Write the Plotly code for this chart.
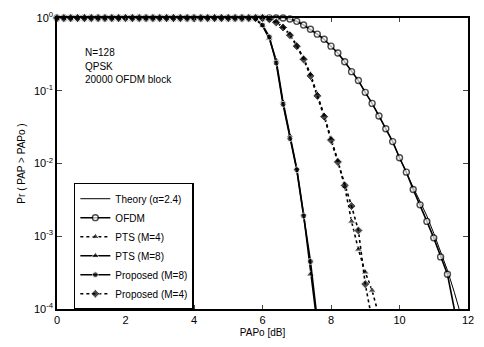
import plotly.graph_objects as go

# ---------------- data ----------------
PAPO_DB = [0.0, 0.2, 0.4, 0.6, 0.8, 1.0, 1.2, 1.4, 1.6, 1.8,
           2.0, 2.2, 2.4, 2.6, 2.8, 3.0, 3.2, 3.4, 3.6, 3.8,
           4.0, 4.2, 4.4, 4.6, 4.8, 5.0, 5.2, 5.4, 5.6, 5.8,
           6.0, 6.2, 6.4, 6.6, 6.8, 7.0, 7.2, 7.4, 7.6, 7.8,
           8.0, 8.2, 8.4, 8.6, 8.8, 9.0, 9.2, 9.4, 9.6, 9.8,
           10.0, 10.2, 10.4, 10.6, 10.8, 11.0, 11.2, 11.4, 11.6, 11.8,
           12.0]

theory = [1.0, 1.0, 1.0, 1.0, 1.0, 1.0, 1.0, 1.0, 1.0, 1.0,
          1.0, 1.0, 1.0, 1.0, 1.0, 1.0, 1.0, 1.0, 1.0, 1.0,
          1.0, 1.0, 1.0, 1.0, 1.0, 1.0, 1.0, 1.0, 1.0, 1.0,
          1.0, 1.0, 1.0, 1.0, 0.97, 0.9, 0.8, 0.7, 0.6, 0.51,
          0.41, 0.33, 0.25, 0.183, 0.138, 0.095, 0.067, 0.045, 0.03, 0.02,
          0.012, 0.0077, 0.0047, 0.003, 0.0019, 0.0011, 0.0006, 0.00034, 0.00017, 0.00008]

ofdm = [1.0, 1.0, 1.0, 1.0, 1.0, 1.0, 1.0, 1.0, 1.0, 1.0,
        1.0, 1.0, 1.0, 1.0, 1.0, 1.0, 1.0, 1.0, 1.0, 1.0,
        1.0, 1.0, 1.0, 1.0, 1.0, 1.0, 1.0, 1.0, 1.0, 1.0,
        1.0, 1.0, 1.0, 1.0, 0.97, 0.9, 0.8, 0.7, 0.6, 0.51,
        0.41, 0.33, 0.25, 0.183, 0.138, 0.095, 0.067, 0.045, 0.03, 0.02,
        0.012, 0.0076, 0.0044, 0.0027, 0.0016, 0.00095, 0.00052, 0.0003, 0.0001]

pts_m4 = [1.0, 1.0, 1.0, 1.0, 1.0, 1.0, 1.0, 1.0, 1.0, 1.0,
          1.0, 1.0, 1.0, 1.0, 1.0, 1.0, 1.0, 1.0, 1.0, 1.0,
          1.0, 1.0, 1.0, 1.0, 1.0, 1.0, 1.0, 1.0, 1.0, 1.0,
          1.0, 0.97, 0.88, 0.76, 0.6, 0.42, 0.28, 0.17, 0.09, 0.046,
          0.022, 0.011, 0.0048, 0.0016, 0.00066, 0.00032, 0.00018, 0.00008]

pts_m8 = [1.0, 1.0, 1.0, 1.0, 1.0, 1.0, 1.0, 1.0, 1.0, 1.0,
          1.0, 1.0, 1.0, 1.0, 1.0, 1.0, 1.0, 1.0, 1.0, 1.0,
          1.0, 1.0, 1.0, 1.0, 1.0, 1.0, 1.0, 1.0, 1.0, 0.96,
          0.78, 0.52, 0.26, 0.07, 0.024, 0.0085, 0.002, 0.0003, 0.00006]

proposed_m8 = [1.0, 1.0, 1.0, 1.0, 1.0, 1.0, 1.0, 1.0, 1.0, 1.0,
               1.0, 1.0, 1.0, 1.0, 1.0, 1.0, 1.0, 1.0, 1.0, 1.0,
               1.0, 1.0, 1.0, 1.0, 1.0, 1.0, 1.0, 1.0, 1.0, 0.97,
               0.8, 0.55, 0.24, 0.065, 0.022, 0.0082, 0.0019, 0.00045, 0.00007]

proposed_m4 = [1.0, 1.0, 1.0, 1.0, 1.0, 1.0, 1.0, 1.0, 1.0, 1.0,
               1.0, 1.0, 1.0, 1.0, 1.0, 1.0, 1.0, 1.0, 1.0, 1.0,
               1.0, 1.0, 1.0, 1.0, 1.0, 1.0, 1.0, 1.0, 1.0, 1.0,
               1.0, 0.96, 0.87, 0.74, 0.58, 0.41, 0.27, 0.16, 0.085, 0.044,
               0.021, 0.0105, 0.005, 0.0026, 0.0012, 0.00022, 0.00007]

X_TICKS = [0, 2, 4, 6, 8, 10, 12]
Y_TICKS = [1e-4, 1e-3, 1e-2, 1e-1, 1e0]
Y_TICK_TEXT = ["10<sup>-4</sup>", "10<sup>-3</sup>", "10<sup>-2</sup>", "10<sup>-1</sup>", "10<sup>0</sup>"]
INFO_LINES = ["N=128", "QPSK", "20000 OFDM block"]

FONT = "Arial, Liberation Sans, sans-serif"

fig = go.Figure()


def marker_sizes(y, size):
    s = [size] * len(y)
    s[-1] = 0
    return s


fig.add_trace(go.Scatter(x=PAPO_DB[:len(theory)], y=theory, mode="lines",
                         name="Theory (α=2.4)", line=dict(color="black", width=1),
                         cliponaxis=True))
fig.add_trace(go.Scatter(x=PAPO_DB[:len(ofdm)], y=ofdm, mode="lines+markers",
                         name="OFDM", line=dict(color="black", width=1.6),
                         marker=dict(symbol="circle", size=marker_sizes(ofdm, 6), color="white",
                                     line=dict(color="black", width=1.4)),
                         cliponaxis=False))
fig.add_trace(go.Scatter(x=PAPO_DB[:len(pts_m4)], y=pts_m4, mode="lines+markers",
                         name="PTS (M=4)", line=dict(color="black", width=1.6, dash="dot"),
                         marker=dict(symbol="triangle-up", size=marker_sizes(pts_m4, 7), color="black"),
                         cliponaxis=False))
fig.add_trace(go.Scatter(x=PAPO_DB[:len(pts_m8)], y=pts_m8, mode="lines+markers",
                         name="PTS (M=8)", line=dict(color="black", width=1.6),
                         marker=dict(symbol="triangle-up", size=marker_sizes(pts_m8, 7), color="black"),
                         cliponaxis=False))
fig.add_trace(go.Scatter(x=PAPO_DB[:len(proposed_m8)], y=proposed_m8, mode="lines+markers",
                         name="Proposed (M=8)", line=dict(color="black", width=1.6),
                         marker=dict(symbol="circle", size=marker_sizes(proposed_m8, 6), color="black"),
                         cliponaxis=False))
fig.add_trace(go.Scatter(x=PAPO_DB[:len(proposed_m4)], y=proposed_m4, mode="lines+markers",
                         name="Proposed (M=4)", line=dict(color="black", width=1.6, dash="dot"),
                         marker=dict(symbol="diamond", size=marker_sizes(proposed_m4, 7), color="black"),
                         cliponaxis=False))

minor_vals = [m * d for d in [1e-4, 1e-3, 1e-2, 1e-1] for m in range(2, 10)]

fig.update_layout(
    width=484, height=347,
    margin=dict(l=57, r=10, t=16, b=34),
    paper_bgcolor="white", plot_bgcolor="white",
    font=dict(family=FONT, size=11, color="black"),
    showlegend=True,
    legend=dict(x=0.041, y=0.434, xanchor="left", yanchor="top",
                bordercolor="black", borderwidth=1.5, bgcolor="white",
                font=dict(size=10, family=FONT), tracegroupgap=0,
                itemwidth=30),
    xaxis=dict(range=[0, 12], tickmode="array", tickvals=X_TICKS,
               ticktext=[str(v) for v in X_TICKS], ticks="inside", ticklen=4,
               tickwidth=1, showgrid=False, zeroline=False,
               showline=True, linecolor="black", linewidth=1.5, mirror="ticks",
               title=dict(text="PAPo [dB]", font=dict(size=10), standoff=4),
               tickfont=dict(size=11)),
    yaxis=dict(type="log", range=[-4, 0], tickvals=Y_TICKS, ticktext=Y_TICK_TEXT,
               ticks="inside", ticklen=5, tickwidth=1, showgrid=False, zeroline=False,
               showline=True, linecolor="black", linewidth=1.5, mirror="ticks",
               title=dict(text="Pr ( PAP > PAPo )", font=dict(size=10), standoff=6),
               tickfont=dict(size=11)),
    yaxis2=dict(type="log", range=[-4, 0], overlaying="y", anchor="x", side="left",
                tickvals=minor_vals, ticks="inside", ticklen=2.5, tickwidth=1,
                showticklabels=False, showgrid=False, zeroline=False,
                showline=False, mirror="ticks"),
)

for i, line in enumerate(INFO_LINES):
    fig.add_annotation(x=0.064, y=0.88 - i * 0.045, xref="paper", yref="paper",
                       text=line, showarrow=False, xanchor="left", yanchor="middle",
                       font=dict(size=10, family=FONT))

fig.write_html("out.html", config={"displayModeBar": False},
               post_script="document.body.style.margin='0';")
